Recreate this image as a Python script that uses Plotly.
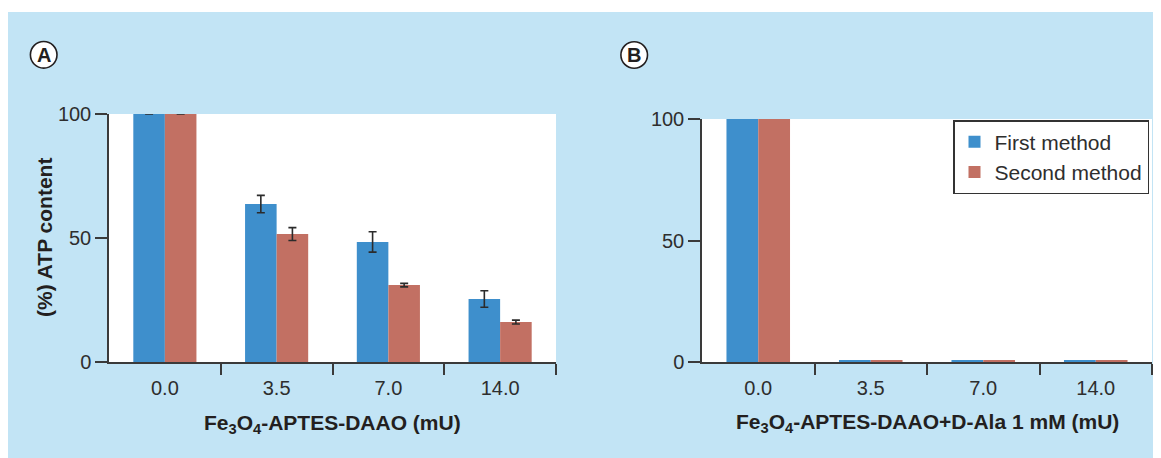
import plotly.graph_objects as go

categories = ["0.0", "3.5", "7.0", "14.0"]
series_names = ["First method", "Second method"]

a_first = [100, 63.7, 48.4, 25.4]
a_first_err = [0, 3.5, 4.1, 3.3]
a_second = [100, 51.6, 31.0, 16.1]
a_second_err = [0, 2.6, 0.7, 0.8]

b_first = [100, 0.8, 0.8, 0.8]
b_second = [100, 0.8, 0.8, 0.8]

y_ticks = [0, 50, 100]

# The page body has an 8px margin, so the figure starts at page (8, 8)
OFF = 8
W, H = 1153, 450
BG = "#C2E4F5"
BLUE = "#3E8FCC"
RED = "#C27063"
INK = "#231F20"
AX = "#3a3a3a"

def px(x):
    return (x - OFF) / W

def py(y):
    return (H - (y - OFF)) / H

xpos = list(range(len(categories)))

fig = go.Figure()

err_style = dict(type="data", visible=True, color="#2b2b2b", thickness=1.6, width=4)

fig.add_trace(go.Bar(x=xpos, y=a_first, name=series_names[0], marker=dict(color=BLUE, line=dict(width=0)),
                     error_y=dict(array=a_first_err, **err_style), xaxis="x", yaxis="y", showlegend=False))
fig.add_trace(go.Bar(x=xpos, y=a_second, name=series_names[1], marker=dict(color=RED, line=dict(width=0)),
                     error_y=dict(array=a_second_err, **err_style), xaxis="x", yaxis="y", showlegend=False))
fig.add_trace(go.Bar(x=xpos, y=b_first, name=series_names[0], marker=dict(color=BLUE, line=dict(width=0)),
                     xaxis="x2", yaxis="y2", showlegend=True))
fig.add_trace(go.Bar(x=xpos, y=b_second, name=series_names[1], marker=dict(color=RED, line=dict(width=0)),
                     xaxis="x2", yaxis="y2", showlegend=True))

FONT = "Liberation Sans, Arial, sans-serif"
tickfont = dict(family=FONT, size=20, color="#2e2e2e")
titlefont = dict(family=FONT, size=21, color=INK, weight="bold")

def xaxis_cfg(domain, anchor):
    return dict(
        domain=domain, anchor=anchor, range=[-0.5, len(categories) - 0.5],
        tickmode="array", tickvals=xpos, ticktext=categories,
        ticks="outside", ticklen=7, tickcolor="rgba(0,0,0,0)",
        minor=dict(tickmode="array", tickvals=[i + 0.5 for i in xpos], ticks="outside",
                   ticklen=11, tickwidth=1.5, tickcolor=AX),
        showline=True, linecolor=AX, linewidth=1.5, showgrid=False, zeroline=False,
        tickfont=tickfont, fixedrange=True, automargin=False,
    )

def yaxis_cfg(domain, anchor):
    return dict(
        domain=domain, anchor=anchor, range=[0, 100],
        tickmode="array", tickvals=y_ticks, ticks="outside", ticklen=12, tickwidth=1.5,
        tickcolor=AX, showline=True, linecolor=AX, linewidth=1.5, showgrid=False,
        zeroline=False, tickfont=tickfont, fixedrange=True, automargin=False,
    )

fig.update_layout(
    template="none",
    width=W, height=H, margin=dict(l=0, r=0, t=0, b=0, pad=0), autosize=False,
    paper_bgcolor=BG, plot_bgcolor="white",
    barmode="group", bargap=0.435, bargroupgap=0,
    xaxis=xaxis_cfg([px(109), px(556)], "y"),
    yaxis=yaxis_cfg([py(362), py(114)], "x"),
    xaxis2=xaxis_cfg([px(702), px(1152)], "y2"),
    yaxis2=yaxis_cfg([py(362), py(119)], "x2"),
    legend=dict(x=px(1149), xanchor="right", y=py(120), yanchor="top",
                bgcolor="white", bordercolor="#333333", borderwidth=1.5,
                font=dict(family=FONT, size=21, color="#2e2e2e")),
    showlegend=True,
)

shapes = [
    # white strip at the top of the page above the blue panel
    dict(type="rect", xref="paper", yref="paper", x0=0, x1=1, y0=py(12), y1=1,
         fillcolor="white", line=dict(width=0), layer="above"),
]
annotations = [
    dict(text="Fe<sub>3</sub>O<sub>4</sub>-APTES-DAAO (mU)", xref="paper", yref="paper",
         x=px(332.5), y=py(424), xanchor="center", yanchor="middle", showarrow=False, font=titlefont),
    dict(text="Fe<sub>3</sub>O<sub>4</sub>-APTES-DAAO+D-Ala 1 mM (mU)", xref="paper", yref="paper",
         x=px(927), y=py(423), xanchor="center", yanchor="middle", showarrow=False, font=titlefont),
    dict(text="(%) ATP content", xref="paper", yref="paper", textangle=-90,
         x=px(45), y=py(238), xanchor="center", yanchor="middle", showarrow=False, font=titlefont),
]
for label, cx, cy in [("A", 43.7, 54.8), ("B", 634.2, 55.0)]:
    r = 13.3
    shapes.append(dict(type="circle", xref="paper", yref="paper",
                       x0=px(cx - r), x1=px(cx + r), y0=py(cy + r), y1=py(cy - r),
                       fillcolor="white", line=dict(color=INK, width=1.6), layer="above"))
    annotations.append(dict(text="<b>%s</b>" % label, xref="paper", yref="paper",
                            x=px(cx), y=py(cy + 0.5), showarrow=False, xanchor="center", yanchor="middle",
                            font=dict(family=FONT, size=20, color=INK)))
fig.update_layout(shapes=shapes, annotations=annotations)

fig.write_html("out.html")
